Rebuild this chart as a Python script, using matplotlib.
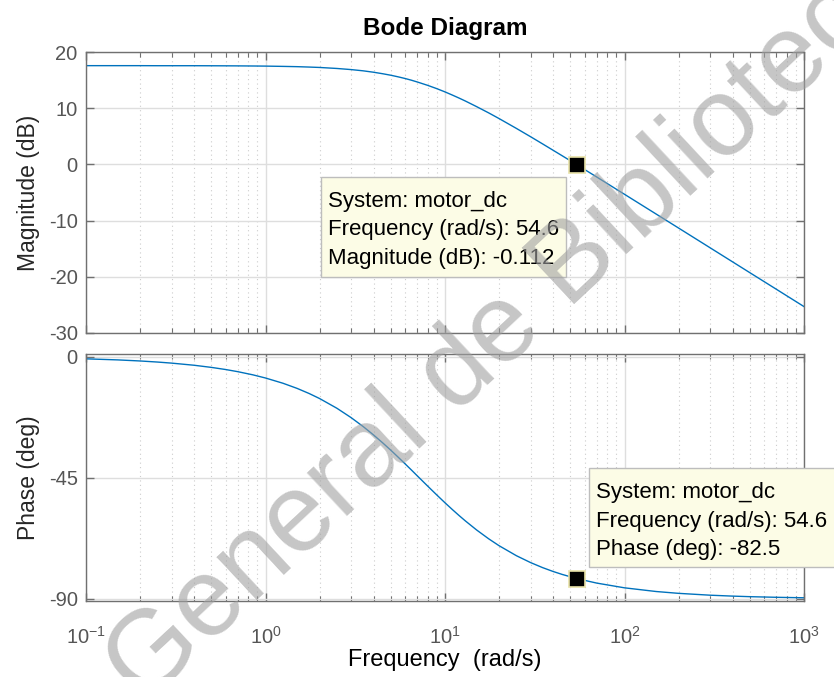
import matplotlib
matplotlib.use("Agg")
import matplotlib.pyplot as plt
from matplotlib.patches import Rectangle
from matplotlib.ticker import LogLocator, NullFormatter

plt.rcParams["font.family"] = ["Liberation Sans", "DejaVu Sans"]
plt.rcParams["mathtext.fontset"] = "custom"
plt.rcParams["mathtext.rm"] = "Liberation Sans"
plt.rcParams["mathtext.it"] = "Liberation Sans:italic"
plt.rcParams["axes.unicode_minus"] = False

# ------------------------------
# data
freq = [0.1, 0.15, 0.2, 0.25, 0.3, 0.4, 0.5, 0.6, 0.7, 0.85, 1, 1.25, 1.5, 1.75, 2,
        2.5, 3, 3.5, 4, 4.5, 5, 5.5, 6, 6.5, 7, 8, 9, 10, 11, 12, 13, 15, 17.5, 20,
        25, 30, 35, 40, 45, 54.6, 70, 100, 150, 200, 300, 400, 500, 700, 1000]
magnitude_db = [17.57, 17.57, 17.57, 17.56, 17.56, 17.56, 17.55, 17.54, 17.53, 17.51,
                17.49, 17.44, 17.39, 17.32, 17.25, 17.07, 16.87, 16.65, 16.40, 16.13,
                15.86, 15.57, 15.28, 14.98, 14.67, 14.07, 13.48, 12.90, 12.33, 11.79,
                11.27, 10.28, 9.17, 8.16, 6.40, 4.92, 3.64, 2.52, 1.53, -0.11,
                -2.24, -5.32, -8.83, -11.32, -14.84, -17.34, -19.28, -22.20, -25.30]
phase_deg = [-0.80, -1.19, -1.59, -1.99, -2.39, -3.18, -3.98, -4.77, -5.56, -6.74,
             -7.92, -9.86, -11.78, -13.68, -15.54, -19.17, -22.65, -25.96, -29.09, -32.04,
             -34.81, -37.42, -39.85, -42.11, -44.24, -48.06, -51.38, -54.29, -56.83, -59.07,
             -61.05, -64.39, -67.66, -70.23, -73.96, -76.52, -78.39, -79.81, -80.92, -82.50,
             -84.13, -85.89, -87.26, -87.94, -88.63, -88.97, -89.18, -89.41, -89.59]

tip_freq = 54.6
tip_mag = -0.112
tip_phase = -82.5
mag_tip_lines = ["System: motor_dc", "Frequency (rad/s): 54.6", "Magnitude (dB): -0.112"]
phase_tip_lines = ["System: motor_dc", "Frequency (rad/s): 54.6", "Phase (deg): -82.5"]

mag_ticks = [-30, -20, -10, 0, 10, 20]
phase_ticks = [-90, -45, 0]

W, H = 834, 677
line_color = "#0072BD"
axis_grey = "#707070"
label_grey = "#555555"

fig = plt.figure(figsize=(W / 100, H / 100), dpi=100)


def px_rect(left, top, right, bottom):
    return [left / W, 1 - bottom / H, (right - left) / W, (bottom - top) / H]


ax_mag = fig.add_axes(px_rect(86, 52, 804, 333))
ax_ph = fig.add_axes(px_rect(86, 354, 804, 600.5))


def style_axis(ax):
    ax.set_xscale("log")
    ax.set_xlim(0.1, 1000)
    ax.xaxis.set_major_locator(LogLocator(base=10, numticks=10))
    ax.xaxis.set_minor_locator(LogLocator(base=10, subs=range(2, 10), numticks=20))
    ax.xaxis.set_minor_formatter(NullFormatter())
    ax.grid(True, which="major", color="#dedede", linewidth=1.0, linestyle="-")
    ax.grid(True, which="minor", axis="x", color="#cccccc", linewidth=0.8,
            linestyle=(0, (1, 3)))
    ax.set_axisbelow(True)
    for s in ax.spines.values():
        s.set_color(axis_grey)
        s.set_linewidth(1.0)
    ax.tick_params(which="both", direction="in", top=True, right=True,
                   colors=axis_grey, labelcolor=label_grey, labelsize=14.5)
    ax.tick_params(which="major", length=6, width=1.0)
    ax.tick_params(which="minor", length=3.5, width=0.8)
    ax.tick_params(axis="y", pad=6)
    ax.tick_params(axis="x", pad=18)


style_axis(ax_mag)
style_axis(ax_ph)

ax_mag.plot(freq, magnitude_db, color=line_color, linewidth=1.0)
ax_mag.set_ylim(-30, 20)
ax_mag.set_yticks(mag_ticks)
ax_mag.tick_params(axis="x", labelbottom=False)
ax_mag.set_ylabel("Magnitude (dB)", fontsize=16.5, color="#262626", labelpad=6)
ax_mag.set_title("Bode Diagram", fontsize=17.5, fontweight="bold", pad=12)

ax_ph.plot(freq, phase_deg, color=line_color, linewidth=1.0)
ax_ph.set_ylim(-90.6, 1.0)
ax_ph.set_yticks(phase_ticks)
ax_ph.set_ylabel("Phase (deg)", fontsize=16.5, color="#262626", labelpad=6)
ax_ph.set_xlabel("Frequency  (rad/s)", fontsize=17, color="black", labelpad=1)

# data tip markers
for ax, val in ((ax_mag, tip_mag), (ax_ph, tip_phase)):
    ax.plot([tip_freq], [val], marker="s", markersize=11, markerfacecolor="black",
            markeredgecolor="#e8e2a8", markeredgewidth=1.2, linestyle="none",
            zorder=5, clip_on=False)


def data_tip(left, top, right, bottom, lines):
    rect = Rectangle((left / W, 1 - bottom / H), (right - left) / W, (bottom - top) / H,
                     transform=fig.transFigure, facecolor="#fcfce6",
                     edgecolor="#bdbdbd", linewidth=1.0, zorder=10)
    fig.patches.append(rect)
    for i, txt in enumerate(lines):
        fig.text((left + 7) / W, 1 - (top + 30 + 28.5 * i) / H, txt, fontsize=16,
                 color="black", ha="left", va="baseline", zorder=11)


data_tip(321, 177, 566, 277, mag_tip_lines)
data_tip(589, 468, 845, 567, phase_tip_lines)

# watermark
fig.text(143 / W, 1 - 706 / H, "General de Biblioteca", fontsize=80, rotation=43,
         rotation_mode="anchor", ha="left", va="baseline", color="#a0a0a0",
         alpha=0.6, zorder=20)

fig.savefig("out.png", dpi=100)
